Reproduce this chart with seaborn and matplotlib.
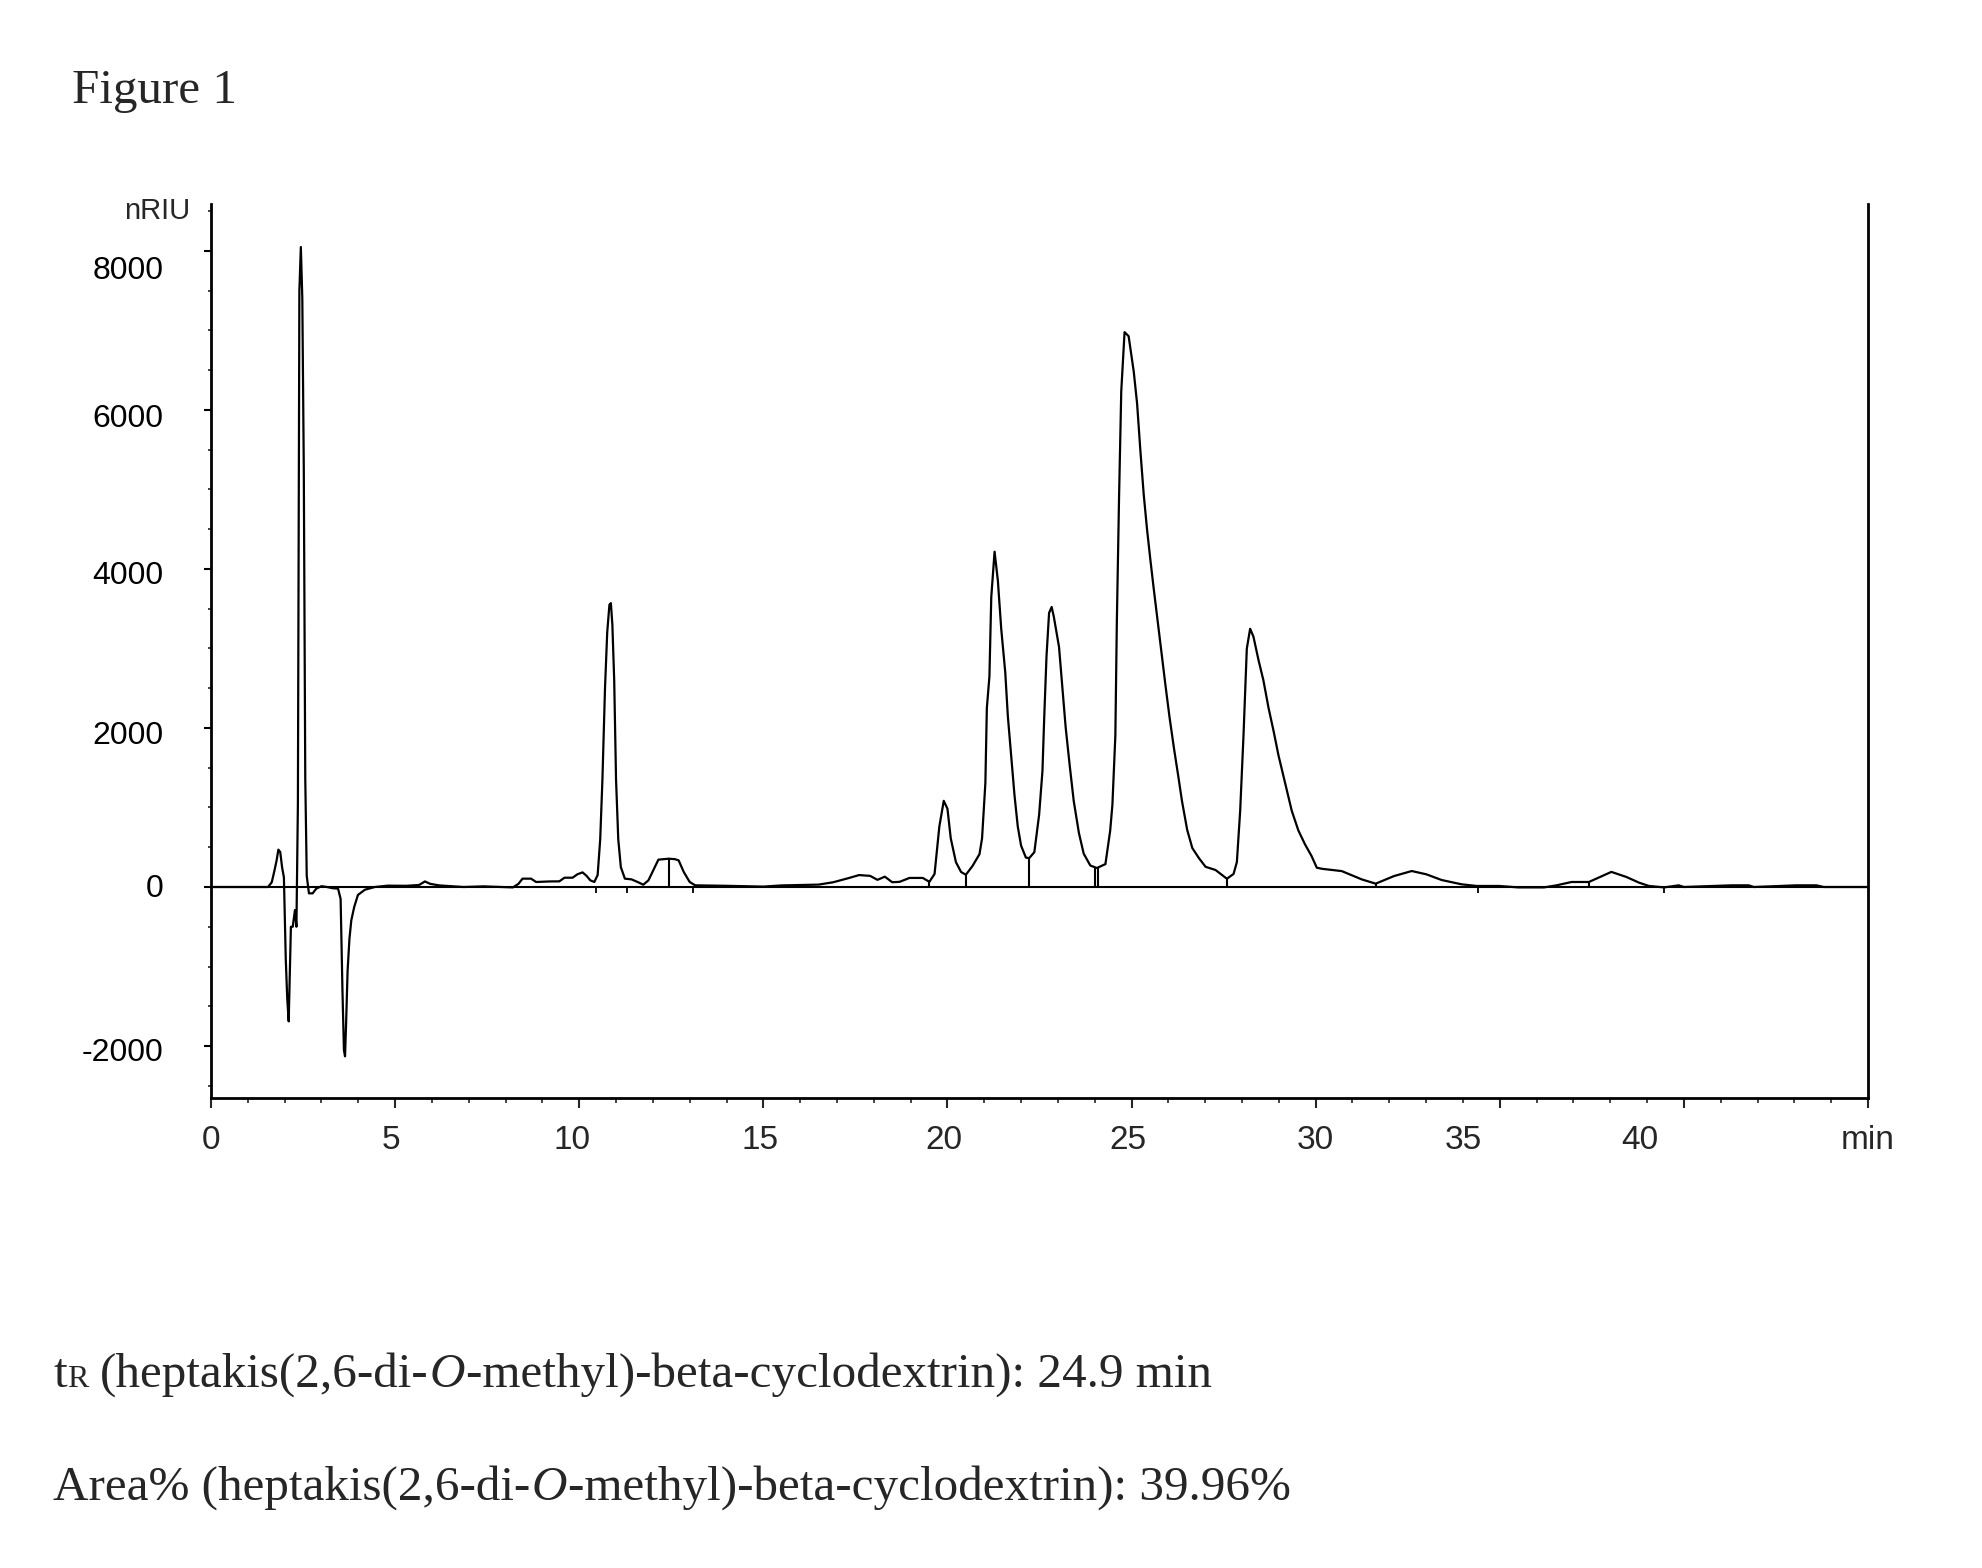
import matplotlib
matplotlib.use("Agg")
import matplotlib.pyplot as plt
from matplotlib import font_manager
from matplotlib.ticker import MultipleLocator
from matplotlib.transforms import ScaledTranslation
import seaborn as sns

# RI chromatogram: time (min) / signal (nRIU)
time_min = [
    0.0, 1.55, 1.65, 1.72, 1.78, 1.83, 1.88, 1.93, 1.98, 2.03, 2.07, 2.11, 2.14,
    2.17, 2.22, 2.28, 2.32, 2.36, 2.40, 2.44, 2.48, 2.52, 2.56, 2.60, 2.66, 2.76,
    2.86, 3.0, 3.15, 3.3, 3.45, 3.52, 3.57, 3.61, 3.64, 3.67, 3.71, 3.76, 3.81,
    3.89, 3.99, 4.18, 4.45, 4.8, 5.3, 5.65, 5.81, 5.95, 6.2, 6.86, 7.4, 7.85,
    8.2, 8.35, 8.46, 8.69, 8.83, 9.2, 9.46, 9.6, 9.82, 9.95, 10.09, 10.2, 10.3,
    10.41, 10.5, 10.57, 10.63, 10.7, 10.76, 10.82, 10.86, 10.9, 10.95, 11.0,
    11.06, 11.13, 11.24, 11.42, 11.6, 11.74, 11.88, 12.0, 12.15, 12.43, 12.6,
    12.7, 12.84, 13.0, 13.15, 14.0, 15.0, 15.5, 16.0, 16.5, 16.9, 17.3, 17.6,
    17.9, 18.1, 18.3, 18.5, 18.7, 18.97, 19.33, 19.51, 19.65, 19.78, 19.90,
    20.00, 20.09, 20.23, 20.37, 20.50, 20.68, 20.87, 20.94, 21.03, 21.07, 21.14,
    21.19, 21.28, 21.37, 21.46, 21.57, 21.64, 21.73, 21.82, 21.91, 22.00, 22.13,
    22.22, 22.36, 22.49, 22.58, 22.63, 22.69, 22.76, 22.83, 22.89, 23.03, 23.12,
    23.21, 23.32, 23.43, 23.57, 23.70, 23.88, 24.06, 24.29, 24.42, 24.48, 24.56,
    24.60, 24.66, 24.72, 24.81, 24.92, 25.06, 25.15, 25.24, 25.33, 25.42, 25.51,
    25.60, 25.72, 25.83, 25.92, 26.03, 26.15, 26.27, 26.37, 26.51, 26.65, 26.83,
    27.01, 27.28, 27.59, 27.77, 27.86, 27.95, 28.04, 28.13, 28.22, 28.31, 28.45,
    28.58, 28.72, 28.86, 28.99, 29.17, 29.35, 29.53, 29.71, 29.89, 30.03, 30.17,
    30.71, 31.25, 31.63, 32.13, 32.61, 33.01, 33.42, 33.96, 34.37, 34.98, 35.5,
    36.2, 36.54, 36.95, 37.42, 38.03, 38.44, 38.78, 39.05, 39.46, 39.86, 40.0,
    41.29, 41.76, 41.9, 43.05, 43.6, 43.8, 45.0,
]
signal_nriu = [
    0, 0, 60, 200, 330, 470, 440, 250, 120, -900, -1400, -1690, -1100,
    -500, -500, -290, -500, 1050, 7500, 8050, 7400, 5260, 1370, 140, -80, -80,
    -20, 10, 0, -15, -20, -150, -1300, -2050, -2130, -1700, -1050, -650, -420,
    -250, -100, -34, 0, 17, 15, 25, 70, 40, 20, 0, 8, 0,
    -5, 40, 105, 105, 63, 70, 71, 117, 117, 160, 184, 140, 84,
    63, 150, 600, 1350, 2500, 3200, 3550, 3570, 3300, 2600, 1350,
    600, 250, 105, 96, 60, 29, 84, 200, 344, 356, 350,
    335, 188, 63, 21, 15, 5, 20, 25, 30, 60, 110, 150,
    140, 90, 130, 60, 65, 114, 114, 65, 164, 761, 1084,
    985, 612, 313, 189, 154, 264, 413, 612, 1308, 2250, 2650,
    3646, 4218, 3850, 3250, 2700, 2150, 1656, 1159, 760, 520, 370,
    363, 438, 910, 1457, 2154, 2900, 3447, 3522, 3397, 3020, 2520,
    2010, 1530, 1080, 680, 420, 270, 239, 288, 711, 1035, 1905,
    3323, 4890, 6233, 6979, 6929, 6481, 6083, 5486, 4939, 4500, 4120,
    3760, 3300, 2880, 2540, 2140, 1750, 1390, 1080, 720, 490, 363,
    254, 214, 104, 164, 313, 960, 1905, 2999, 3248, 3149, 2850,
    2601, 2253, 1955, 1656, 1308, 960, 711, 537, 388, 243, 229,
    200, 96, 42, 138, 201, 159, 88, 34, 13, 13, -5,
    -5, 21, 63, 63, 190, 126, 55, 13, -5, 21, 0,
    21, 21, 0, 21, 21, 0, 0,
]

# integration drop lines at peak boundaries
drop_time = [12.43, 19.51, 20.50, 22.22, 24.02, 24.10, 27.59, 31.63, 37.42]
drop_top = [356, 65, 154, 363, 239, 239, 104, 42, 63]

# short event marks under the baseline
mark_time = [10.45, 11.3, 13.1, 34.4, 39.46]

y_ticks = [-2000, 0, 2000, 4000, 6000, 8000]
y_tick_labels = ["-2000", "0", "2000", "4000", "6000", "8000"]
y_label_drop_px = [3, -2, 5, 4, 6, 17]
x_major = [0, 5, 10, 15, 20, 25, 30, 35, 40, 45]
x_label_text = ["0", "5", "10", "15", "20", "25", "30", "35", "40", "min"]
x_label_pos = [0, 4.9, 9.8, 14.9, 19.9, 24.9, 30.0, 34.0, 38.8, 45.0]

W, H = 1982, 1568
sns.set_style("ticks")
installed = {f.name for f in font_manager.fontManager.ttflist}
narrow = "Liberation Sans Narrow" in installed
plt.rcParams["font.family"] = ["Liberation Sans", "DejaVu Sans"]

fig = plt.figure(figsize=(W / 100, H / 100), dpi=100)
left, right, top, bottom = 211, 1868, 204, 1098
ax = fig.add_axes([left / W, 1 - bottom / H, (right - left) / W, (bottom - top) / H])

sns.lineplot(x=time_min, y=signal_nriu, ax=ax, color="black", linewidth=1.6,
             estimator=None, sort=False)
ax.axhline(0, color="black", lw=1.5, zorder=1)
ax.vlines(drop_time, 0, drop_top, color="black", lw=1.5)
ax.vlines(mark_time, -75, 0, color="black", lw=1.3)

ax.set_xlim(0, 45)
ax.set_ylim(-2654, 8591)
ax.spines["top"].set_visible(False)
for s in ["left", "right", "bottom"]:
    ax.spines[s].set_visible(True)
    ax.spines[s].set_color("black")
    ax.spines[s].set_linewidth(2.0)

ax.set_yticks(y_ticks)
ax.set_yticklabels(y_tick_labels, fontsize=23)
ax.yaxis.set_minor_locator(MultipleLocator(500))
ax.tick_params(axis="y", which="major", length=5, width=1.5, pad=29, colors="black")
ax.tick_params(axis="y", which="minor", length=2.5, width=1.2)
for lab, dy in zip(ax.get_yticklabels(), y_label_drop_px):
    lab.set_transform(lab.get_transform() + ScaledTranslation(0, -dy / 100, fig.dpi_scale_trans))

ax.set_xticks(x_major)
ax.set_xticklabels([])
ax.xaxis.set_minor_locator(MultipleLocator(1))
ax.tick_params(axis="x", which="major", length=7.5, width=1.5)
ax.tick_params(axis="x", which="minor", length=3.8, width=1.2)
ax.set_xlabel("")
ax.set_ylabel("")

xfont = dict(family="Liberation Sans Narrow", fontsize=29) if narrow else dict(fontsize=24)
for pos, lab in zip(x_label_pos, x_label_text):
    ax.annotate(lab, xy=(pos, 0), xycoords=("data", "axes fraction"),
                xytext=(0, -27), textcoords="offset pixels",
                ha="center", va="top", **xfont)

fig.text(190 / W, 1 - 211 / H, "nRIU", ha="right", va="center", fontsize=21)

# caption text in a Times-like face
serif = "Liberation Serif"
size = 35.4
renderer = fig.canvas.get_renderer()


def write_line(x_px, base_px, pieces):
    x = x_px / W
    for txt, scale, style, gap in pieces:
        x += gap * size * 100 / 72 / W
        t = fig.text(x, 1 - base_px / H, txt, family=serif, fontsize=size * scale,
                     style=style, ha="left", va="baseline")
        x = t.get_window_extent(renderer).x1 / W


write_line(72, 103, [("Figure 1", 1, "normal", 0)])
write_line(53, 1387, [
    ("t", 1, "normal", 0),
    ("R", 0.65, "normal", 0.0),
    ("(heptakis(2,6-di-", 1, "normal", 0.25),
    ("O", 1, "italic", 0.02),
    ("-methyl)-beta-cyclodextrin): 24.9 min", 1, "normal", 0.02),
])
write_line(53, 1500, [
    ("Area% (heptakis(2,6-di-", 1, "normal", 0),
    ("O", 1, "italic", 0.02),
    ("-methyl)-beta-cyclodextrin): 39.96%", 1, "normal", 0.02),
])

fig.savefig("out.png", dpi=100)
